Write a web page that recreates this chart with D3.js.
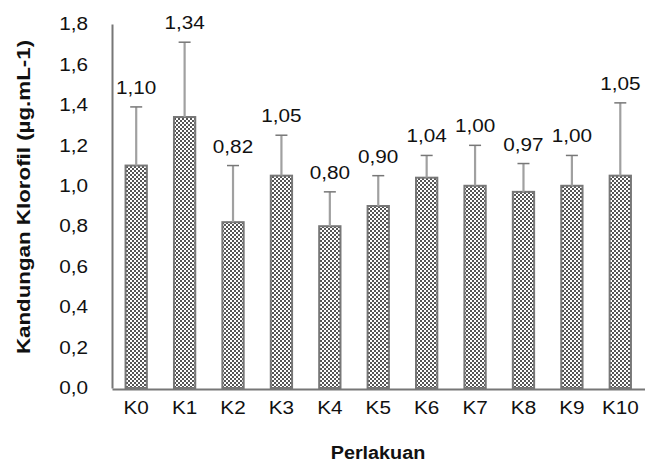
<!DOCTYPE html>
<html><head><meta charset="utf-8">
<script src="https://cdn.jsdelivr.net/npm/d3@7"></script>
<style>body{margin:0;background:#fff}svg{display:block}text{font-family:"Liberation Sans",Arial,sans-serif}</style>
</head><body>
<script>
const categories = ["K0","K1","K2","K3","K4","K5","K6","K7","K8","K9","K10"];
const values = [1.10,1.34,0.82,1.05,0.80,0.90,1.04,1.00,0.97,1.00,1.05];
const errors = [0.29,0.37,0.28,0.20,0.17,0.15,0.11,0.20,0.14,0.15,0.36];
const valueLabels = ["1,10","1,34","0,82","1,05","0,80","0,90","1,04","1,00","0,97","1,00","1,05"];
const yTicks = [0,0.2,0.4,0.6,0.8,1.0,1.2,1.4,1.6,1.8];

const W=651,H=463;
const svg=d3.select("body").append("svg").attr("width",W).attr("height",H);
const defs=svg.append("defs");
const pat=defs.append("pattern").attr("id","chk").attr("patternUnits","userSpaceOnUse").attr("width",4).attr("height",4);
pat.append("rect").attr("width",4).attr("height",4).attr("fill","#fff");
pat.append("rect").attr("x",0).attr("y",0).attr("width",2).attr("height",2).attr("fill","#555");
pat.append("rect").attr("x",2).attr("y",2).attr("width",2).attr("height",2).attr("fill","#555");

function stretch(sel,f){sel.each(function(){const L=this.getComputedTextLength();d3.select(this).attr("textLength",L*f).attr("lengthAdjust","spacingAndGlyphs");});}

const x=d3.scaleBand().domain(categories).range([112,644.5]).paddingInner(0.56).paddingOuter(0.28);
const y=d3.scaleLinear().domain([0,1.8]).range([388,24]);

// y axis
const ya=svg.append("g").attr("transform","translate(112,0)")
 .call(d3.axisLeft(y).tickValues(yTicks).tickSize(0).tickPadding(24).tickFormat(d=>d3.format(".1f")(d).replace(".",",")));
ya.select(".domain").attr("stroke","#777").attr("stroke-width",2);
ya.selectAll("text").attr("font-size",18).attr("fill","#111").call(stretch,1.15);

// bars
svg.append("g").selectAll("rect").data(categories).join("rect")
 .attr("x",d=>x(d)).attr("width",x.bandwidth())
 .attr("y",(d,i)=>y(values[i])).attr("height",(d,i)=>y(0)-y(values[i]))
 .attr("fill","url(#chk)").attr("stroke","#777").attr("stroke-width",2);

// x axis
const xa=svg.append("g").attr("transform","translate(0,389)")
 .call(d3.axisBottom(x).tickSize(0).tickPadding(12));
xa.select(".domain").attr("stroke","#777").attr("stroke-width",2);
xa.selectAll("text").attr("font-size",18).attr("fill","#111").call(stretch,1.15);

// error bars
const eb=svg.append("g");
categories.forEach((c,i)=>{
  const cx=x(c)+x.bandwidth()/2;
  eb.append("line").attr("x1",cx).attr("x2",cx).attr("y1",y(values[i])).attr("y2",y(values[i]+errors[i])).attr("stroke","#a0a0a0").attr("stroke-width",2.2);
  eb.append("line").attr("x1",cx-6).attr("x2",cx+6).attr("y1",y(values[i]+errors[i])).attr("y2",y(values[i]+errors[i])).attr("stroke","#777").attr("stroke-width",1.5);
  svg.append("text").attr("x",cx).attr("y",y(values[i]+errors[i])-13).attr("text-anchor","middle")
    .attr("font-size",18).attr("fill","#111").text(valueLabels[i]).call(stretch,1.15);
});

svg.append("text").attr("x",378).attr("y",459).attr("text-anchor","middle").attr("font-size",18).attr("font-weight","bold").attr("fill","#111").text("Perlakuan").call(stretch,1.1);
svg.append("text").attr("transform","translate(30,197) rotate(-90)").attr("text-anchor","middle").attr("font-size",18).attr("font-weight","bold").attr("fill","#111").text("Kandungan Klorofil (µg.mL-1)").call(stretch,1.24);
</script>
</body></html>
